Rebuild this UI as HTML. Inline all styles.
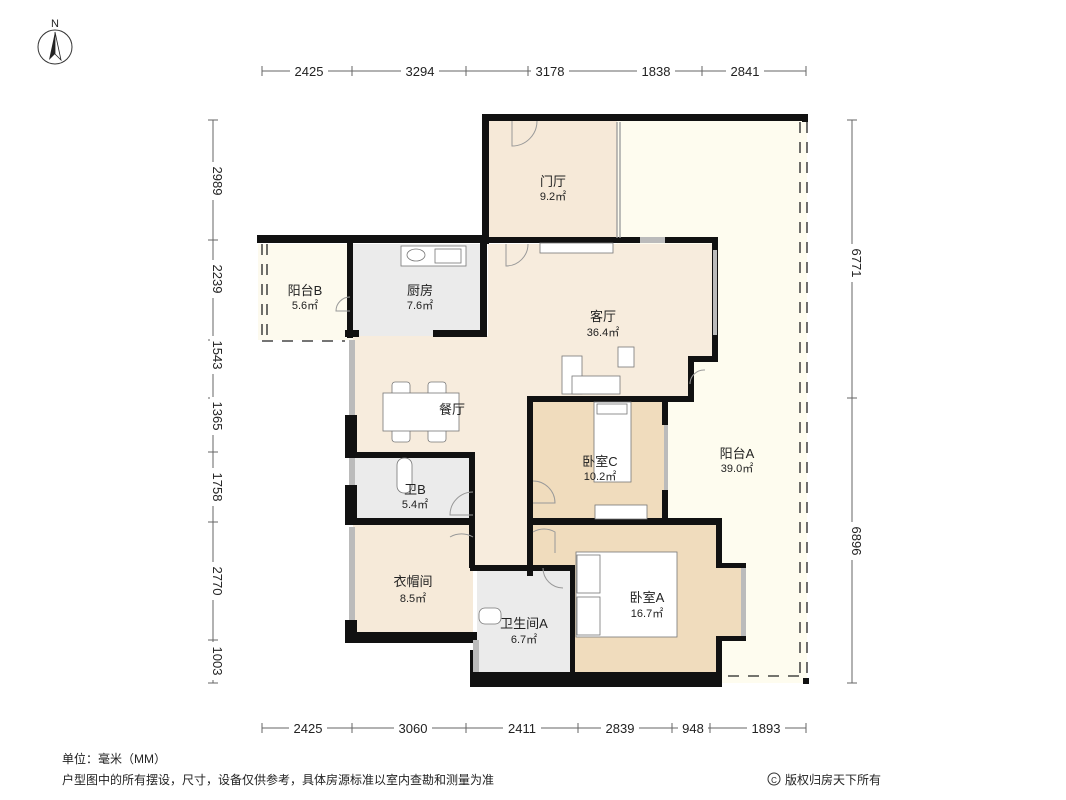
<!DOCTYPE html>
<html><head><meta charset="utf-8"><style>
body{margin:0;background:#fff;}
svg{display:block}
text{font-family:"Liberation Sans","Noto Sans CJK SC",sans-serif;fill:#222}
.d{font-size:13px;fill:#333}
.r{font-size:13px;text-anchor:middle}
.a{font-size:11px;text-anchor:middle}
</style></head><body>
<svg width="1066" height="800" viewBox="0 0 1066 800" xmlns="http://www.w3.org/2000/svg">
<!-- compass -->
<circle cx="55" cy="47" r="17" fill="none" stroke="#333" stroke-width="1"/>
<polygon points="55,32 49,60 55,54" fill="#222"/><polygon points="55,32 61,60 55,54" fill="#fff" stroke="#222" stroke-width="0.8"/>
<text x="55" y="27" font-size="11" text-anchor="middle">N</text>

<!-- fills -->
<rect x="617" y="120" width="190" height="563" fill="#fefcef"/>
<rect x="488" y="120" width="129" height="120" fill="#f6e9d8"/>
<rect x="258" y="244" width="95" height="96" fill="#fdfaee"/>
<rect x="353" y="244" width="132" height="92" fill="#ebebeb"/>
<polygon points="488,244 716,244 716,360 690,360 690,400 530,400 530,570 473,570 473,520 353,520 353,336 488,336" fill="#f7ecdd"/>
<rect x="530" y="400" width="138" height="120" fill="#f0dcbd"/>
<polygon points="533,525 718,525 718,567 744,567 744,638 718,638 718,673 573,673 573,568 533,568" fill="#f0dcbd"/>
<rect x="477" y="568" width="96" height="105" fill="#ebebeb"/>
<rect x="353" y="525" width="120" height="107" fill="#f6ead9"/>
<rect x="353" y="458" width="120" height="62" fill="#ebebeb"/>

<!-- walls -->
<g fill="#111">
<rect x="482" y="114" width="326" height="7"/>
<rect x="482" y="114" width="7" height="130"/>
<rect x="257" y="235" width="231" height="8"/>
<rect x="488" y="237" width="52" height="6"/>
<rect x="540" y="237" width="178" height="6"/>
<rect x="712" y="237" width="6" height="125"/>
<rect x="688" y="356" width="30" height="6"/>
<rect x="688" y="356" width="6" height="46"/>
<rect x="527" y="396" width="167" height="6"/>
<rect x="527" y="396" width="6" height="180"/>
<rect x="480" y="243" width="7" height="93"/>
<rect x="433" y="330" width="54" height="7"/>
<rect x="345" y="330" width="14" height="7"/>
<rect x="347" y="243" width="6" height="95"/>
<rect x="345" y="415" width="12" height="40"/>
<rect x="345" y="452" width="130" height="6"/>
<rect x="469" y="452" width="6" height="116"/>
<rect x="345" y="485" width="12" height="38"/>
<rect x="345" y="518" width="130" height="7"/>
<rect x="345" y="620" width="12" height="23"/>
<rect x="345" y="632" width="132" height="11"/>
<rect x="470" y="565" width="105" height="6"/>
<rect x="570" y="565" width="5" height="110"/>
<rect x="533" y="518" width="189" height="7"/>
<rect x="662" y="400" width="6" height="25"/>
<rect x="662" y="490" width="6" height="32"/>
<rect x="716" y="520" width="6" height="48"/>
<rect x="716" y="563" width="30" height="5"/>
<rect x="716" y="636" width="30" height="5"/>
<rect x="716" y="636" width="6" height="40"/>
<rect x="470" y="672" width="252" height="15"/>
<rect x="470" y="650" width="7" height="37"/>
<rect x="802" y="114" width="6" height="8"/>
<rect x="803" y="678" width="6" height="6"/>
</g>
<!-- windows gray -->
<g fill="#bbb">
<rect x="640" y="237" width="25" height="6"/>
<rect x="713" y="250" width="4" height="85"/>
<rect x="349" y="340" width="6" height="75"/>
<rect x="349" y="527" width="6" height="93"/>
<rect x="473" y="640" width="6" height="32"/>
<rect x="664" y="425" width="4" height="65"/>
<rect x="741" y="568" width="5" height="68"/>
<rect x="349" y="458" width="6" height="27"/>
</g>
<!-- dashed balcony lines -->
<g stroke="#222" stroke-width="1.3" stroke-dasharray="11,9" fill="none">
<line x1="800" y1="122" x2="800" y2="676"/><line x1="807" y1="122" x2="807" y2="676"/>
<line x1="617" y1="122" x2="617" y2="238" stroke-dasharray="none" stroke="#999"/>
<line x1="620" y1="122" x2="620" y2="238" stroke-dasharray="none" stroke="#999"/>
<line x1="262" y1="244" x2="262" y2="335"/><line x1="267" y1="244" x2="267" y2="335"/>
<line x1="262" y1="341" x2="345" y2="341"/>
<line x1="728" y1="676" x2="806" y2="676"/>
</g>
<!-- doors -->
<g fill="none" stroke="#999" stroke-width="1">
<path d="M512 121 V146 A25 25 0 0 0 537 121"/>
<path d="M506 244 V266 A22 22 0 0 0 528 244"/>
<path d="M350 297 A14 14 0 0 0 336 311 H350"/>
<path d="M705 370 A14 14 0 0 0 690 384"/>
<path d="M473 492 A23 23 0 0 0 450 515 H473"/>
<path d="M473 537 A23 23 0 0 0 450 537 "/>
<path d="M533 481 A22 22 0 0 1 555 503 H533"/>
<path d="M533 532 A22 22 0 0 1 555 532 V553"/>
<path d="M543 568 A20 20 0 0 0 563 588"/>
</g>
<!-- furniture -->
<g fill="#fff" stroke="#777" stroke-width="0.8">
<rect x="401" y="246" width="65" height="20"/>
<ellipse cx="416" cy="255" rx="9" ry="6"/>
<rect x="435" y="249" width="26" height="14"/>
<rect x="540" y="243" width="73" height="10"/>
<rect x="392" y="382" width="18" height="14" rx="3"/><rect x="428" y="382" width="18" height="14" rx="3"/>
<rect x="392" y="428" width="18" height="14" rx="3"/><rect x="428" y="428" width="18" height="14" rx="3"/>
<rect x="383" y="393" width="76" height="38"/>
<rect x="562" y="356" width="20" height="38"/>
<rect x="572" y="376" width="48" height="18"/>
<rect x="618" y="347" width="16" height="20"/>
<rect x="594" y="402" width="37" height="80"/>
<rect x="597" y="404" width="30" height="10"/>
<rect x="595" y="505" width="52" height="14"/>
<rect x="397" y="458" width="15" height="35" rx="7"/>
<rect x="576" y="552" width="101" height="85"/>
<rect x="577" y="555" width="23" height="38"/><rect x="577" y="597" width="23" height="38"/>
<rect x="479" y="608" width="22" height="16" rx="6"/>
</g>
<!-- room labels -->
<text class="r" x="553" y="186">门厅</text><text class="a" x="553" y="200">9.2㎡</text>
<text class="r" x="305" y="295">阳台B</text><text class="a" x="305" y="309">5.6㎡</text>
<text class="r" x="420" y="295">厨房</text><text class="a" x="420" y="309">7.6㎡</text>
<text class="r" x="603" y="321">客厅</text><text class="a" x="603" y="336">36.4㎡</text>
<text class="r" x="452" y="414">餐厅</text>
<text class="r" x="600" y="466">卧室C</text><text class="a" x="600" y="480">10.2㎡</text>
<text class="r" x="737" y="458">阳台A</text><text class="a" x="737" y="472">39.0㎡</text>
<text class="r" x="415" y="494">卫B</text><text class="a" x="415" y="508">5.4㎡</text>
<text class="r" x="413" y="586">衣帽间</text><text class="a" x="413" y="602">8.5㎡</text>
<text class="r" x="647" y="602">卧室A</text><text class="a" x="647" y="617">16.7㎡</text>
<text class="r" x="524" y="628">卫生间A</text><text class="a" x="524" y="643">6.7㎡</text>

<!-- dimensions -->
<g stroke="#666" stroke-width="1">
<line x1="262" y1="71" x2="806" y2="71"/>
<line x1="262" y1="728" x2="806" y2="728"/>
<line x1="213" y1="120" x2="213" y2="683"/>
<line x1="852" y1="120" x2="852" y2="683"/>
<g>
<line x1="262" y1="66" x2="262" y2="76"/><line x1="352" y1="66" x2="352" y2="76"/><line x1="466" y1="66" x2="466" y2="76"/><line x1="528" y1="66" x2="528" y2="76"/><line x1="638" y1="66" x2="638" y2="76"/><line x1="702" y1="66" x2="702" y2="76"/><line x1="806" y1="66" x2="806" y2="76"/>
<line x1="262" y1="723" x2="262" y2="733"/><line x1="352" y1="723" x2="352" y2="733"/><line x1="466" y1="723" x2="466" y2="733"/><line x1="578" y1="723" x2="578" y2="733"/><line x1="672" y1="723" x2="672" y2="733"/><line x1="710" y1="723" x2="710" y2="733"/><line x1="806" y1="723" x2="806" y2="733"/>
<line x1="208" y1="120" x2="218" y2="120"/><line x1="208" y1="240" x2="218" y2="240"/><line x1="208" y1="340" x2="218" y2="340"/><line x1="208" y1="398" x2="218" y2="398"/><line x1="208" y1="452" x2="218" y2="452"/><line x1="208" y1="522" x2="218" y2="522"/><line x1="208" y1="640" x2="218" y2="640"/><line x1="208" y1="683" x2="218" y2="683"/>
<line x1="847" y1="120" x2="857" y2="120"/><line x1="847" y1="398" x2="857" y2="398"/><line x1="847" y1="683" x2="857" y2="683"/>
</g></g>
<g class="d" text-anchor="middle">
<rect x="290" y="63" width="38" height="16" fill="#fff"/><text x="309" y="76">2425</text>
<rect x="401" y="63" width="38" height="16" fill="#fff"/><text x="420" y="76">3294</text>
<rect x="531" y="63" width="38" height="16" fill="#fff"/><text x="550" y="76">3178</text>
<rect x="637" y="63" width="38" height="16" fill="#fff"/><text x="656" y="76">1838</text>
<rect x="726" y="63" width="38" height="16" fill="#fff"/><text x="745" y="76">2841</text>
<rect x="289" y="720" width="38" height="16" fill="#fff"/><text x="308" y="733">2425</text>
<rect x="394" y="720" width="38" height="16" fill="#fff"/><text x="413" y="733">3060</text>
<rect x="503" y="720" width="38" height="16" fill="#fff"/><text x="522" y="733">2411</text>
<rect x="601" y="720" width="38" height="16" fill="#fff"/><text x="620" y="733">2839</text>
<rect x="678" y="720" width="30" height="16" fill="#fff"/><text x="693" y="733">948</text>
<rect x="747" y="720" width="38" height="16" fill="#fff"/><text x="766" y="733">1893</text>
</g>
<g class="d" text-anchor="middle">
<g transform="translate(218,181) rotate(90)"><rect x="-19" y="-8" width="38" height="16" fill="#fff"/><text y="5">2989</text></g>
<g transform="translate(218,279) rotate(90)"><rect x="-19" y="-8" width="38" height="16" fill="#fff"/><text y="5">2239</text></g>
<g transform="translate(218,355) rotate(90)"><rect x="-19" y="-8" width="38" height="16" fill="#fff"/><text y="5">1543</text></g>
<g transform="translate(218,416) rotate(90)"><rect x="-19" y="-8" width="38" height="16" fill="#fff"/><text y="5">1365</text></g>
<g transform="translate(218,487) rotate(90)"><rect x="-19" y="-8" width="38" height="16" fill="#fff"/><text y="5">1758</text></g>
<g transform="translate(218,581) rotate(90)"><rect x="-19" y="-8" width="38" height="16" fill="#fff"/><text y="5">2770</text></g>
<g transform="translate(218,661) rotate(90)"><rect x="-19" y="-8" width="38" height="16" fill="#fff"/><text y="5">1003</text></g>
<g transform="translate(857,263) rotate(90)"><rect x="-19" y="-8" width="38" height="16" fill="#fff"/><text y="5">6771</text></g>
<g transform="translate(857,541) rotate(90)"><rect x="-19" y="-8" width="38" height="16" fill="#fff"/><text y="5">6896</text></g>
</g>
<text x="62" y="763" font-size="12" fill="#333">单位：毫米（MM）</text>
<text x="62" y="784" font-size="12" fill="#333">户型图中的所有摆设，尺寸，设备仅供参考，具体房源标准以室内查勘和测量为准</text>
<circle cx="774" cy="779" r="6" fill="none" stroke="#333"/><text x="774" y="783" font-size="8" text-anchor="middle">C</text>
<text x="785" y="784" font-size="12" fill="#333">版权归房天下所有</text>
</svg>
</body></html>
